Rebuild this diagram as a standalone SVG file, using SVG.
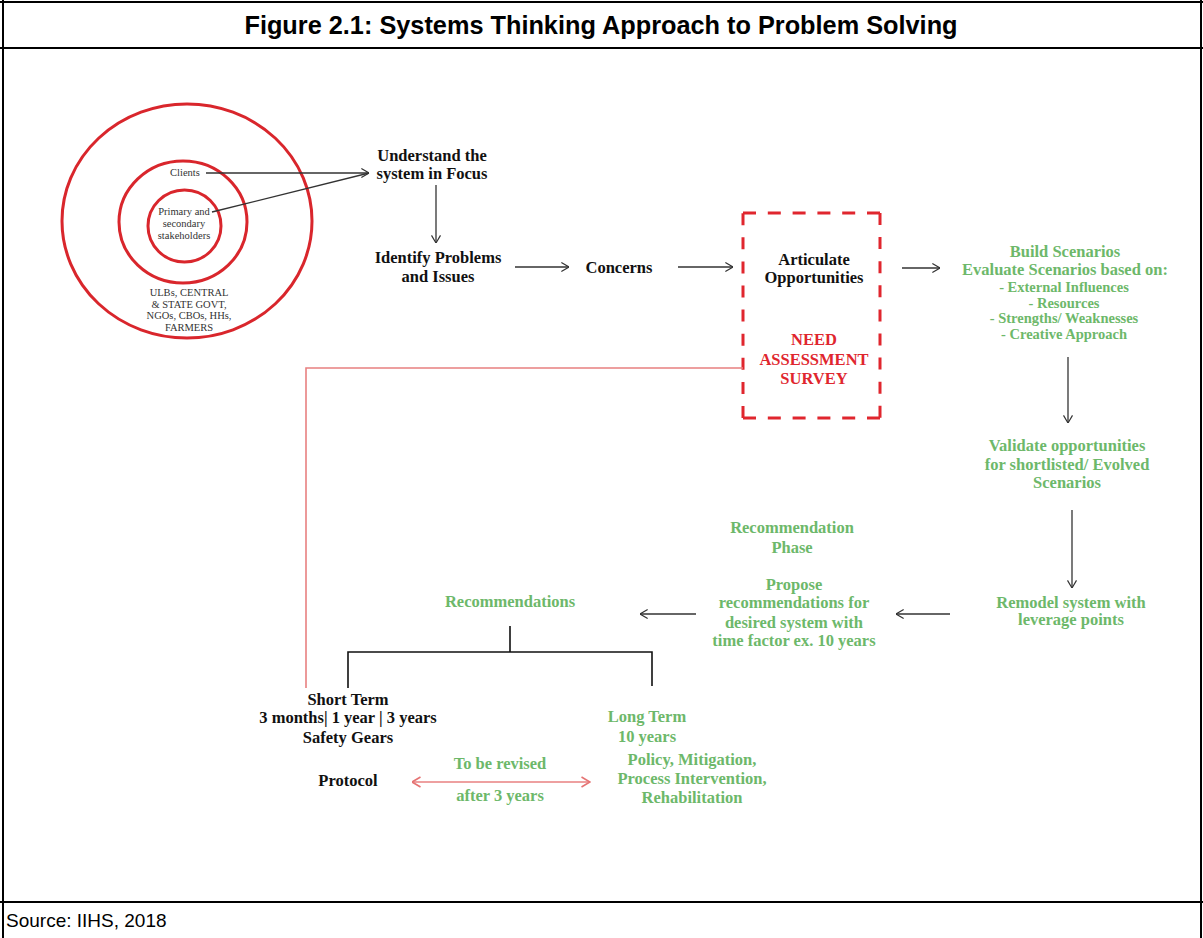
<svg xmlns="http://www.w3.org/2000/svg" width="1203" height="938" viewBox="0 0 1203 938">
<style>
.frame{stroke:#000;stroke-width:2;fill:none}
.title{font-family:"Liberation Sans",Arial,sans-serif;font-weight:bold;font-size:25.3px;fill:#000}
.src{font-family:"Liberation Sans",Arial,sans-serif;font-size:19px;fill:#000}
.ring{fill:none;stroke:#d9262c;stroke-width:3}
.sm{font-family:"Liberation Serif","DejaVu Serif",serif;font-size:10.5px;fill:#333;text-anchor:middle}
.t{font-family:"Liberation Serif","DejaVu Serif",serif;font-weight:bold;font-size:16.5px;text-anchor:middle}
.k{fill:#111}
.g{fill:#6db86a}
.r{fill:#e0262e}
.gs{font-size:14.5px}
.ln{stroke:#333;stroke-width:1.3;fill:none}
.tree{stroke:#111;stroke-width:1.6;fill:none}
.dash{stroke:#e0262e;stroke-width:3;fill:none}
.rl{stroke:#e88080;stroke-width:1.6;fill:none}
</style>
<defs>
<marker id="ah" viewBox="0 0 10 12" refX="9.5" refY="6" markerWidth="9" markerHeight="11" orient="auto" markerUnits="userSpaceOnUse">
<path d="M1,1 L9.5,6 L1,11" fill="none" stroke="#333" stroke-width="1.3"/>
</marker>
<marker id="rh" viewBox="0 0 10 12" refX="9.5" refY="6" markerWidth="10" markerHeight="12" orient="auto-start-reverse" markerUnits="userSpaceOnUse">
<path d="M1,1 L9.5,6 L1,11" fill="none" stroke="#e57373" stroke-width="1.6"/>
</marker>
</defs>
<rect width="1203" height="938" fill="#fff"/>
<g id="frame">
<line class="frame" x1="3" y1="0" x2="3" y2="938"/>
<line class="frame" x1="1201" y1="0" x2="1201" y2="938"/>
<line class="frame" x1="0" y1="2" x2="1203" y2="2"/>
<line class="frame" x1="0" y1="48" x2="1203" y2="48"/>
<line class="frame" x1="0" y1="902" x2="1203" y2="902"/>
<text class="title" x="601" y="34" text-anchor="middle">Figure 2.1: Systems Thinking Approach to Problem Solving</text>
<text class="src" x="6" y="927">Source: IIHS, 2018</text>
</g>
<g id="stakeholders">
<ellipse class="ring" cx="187" cy="221" rx="125" ry="117"/>
<ellipse class="ring" cx="183" cy="222" rx="64" ry="61"/>
<ellipse class="ring" cx="184.5" cy="226" rx="36.5" ry="36"/>
<text class="sm" x="185" y="176">Clients</text>
<text class="sm" x="184" y="215">Primary and</text>
<text class="sm" x="184" y="227">secondary</text>
<text class="sm" x="184" y="239">stakeholders</text>
<text class="sm" x="189" y="296">ULBs, CENTRAL</text>
<text class="sm" x="189" y="307.5">&amp; STATE GOVT,</text>
<text class="sm" x="189" y="319">NGOs, CBOs, HHs,</text>
<text class="sm" x="189" y="330.5">FARMERS</text>
</g>
<g id="understand"><text class="t k" x="432" y="161">Understand the</text><text class="t k" x="432" y="179">system in Focus</text></g>
<g id="identify"><text class="t k" x="438" y="263">Identify Problems</text><text class="t k" x="438" y="282">and Issues</text></g>
<g id="concerns"><text class="t k" x="619" y="273">Concerns</text></g>
<g id="articulate">
<path class="dash" d="M743,213 H880" stroke-dasharray="13 11.8"/>
<path class="dash" d="M880,213 V418" stroke-dasharray="12 12.1"/>
<path class="dash" d="M880,418 H743" stroke-dasharray="13 11.8"/>
<path class="dash" d="M743,418 V213" stroke-dasharray="12 12.1"/>
<text class="t k" x="814" y="265">Articulate</text>
<text class="t k" x="814" y="283">Opportunities</text>
<text class="t r" x="814" y="345">NEED</text>
<text class="t r" x="814" y="365">ASSESSMENT</text>
<text class="t r" x="814" y="384">SURVEY</text>
</g>
<g id="scenarios">
<text class="t g" x="1065" y="257">Build Scenarios</text>
<text class="t g" x="1065" y="275">Evaluate Scenarios based on:</text>
<text class="t g gs" x="1064" y="292">- External Influences</text>
<text class="t g gs" x="1064" y="308">- Resources</text>
<text class="t g gs" x="1064" y="323">- Strengths/ Weaknesses</text>
<text class="t g gs" x="1064" y="339">- Creative Approach</text>
</g>
<g id="validate">
<text class="t g" x="1067" y="451">Validate opportunities</text>
<text class="t g" x="1067" y="470">for shortlisted/ Evolved</text>
<text class="t g" x="1067" y="488">Scenarios</text>
</g>
<g id="remodel">
<text class="t g" x="1071" y="608">Remodel system with</text>
<text class="t g" x="1071" y="625">leverage points</text>
</g>
<g id="recommendation-phase">
<text class="t g" x="792" y="533">Recommendation</text>
<text class="t g" x="792" y="553">Phase</text>
<text class="t g" x="794" y="590">Propose</text>
<text class="t g" x="794" y="608">recommendations for</text>
<text class="t g" x="794" y="628">desired system with</text>
<text class="t g" x="794" y="646">time factor ex. 10 years</text>
</g>
<g id="recommendations"><text class="t g" x="510" y="607">Recommendations</text></g>
<g id="short-term">
<text class="t k" x="348" y="705">Short Term</text>
<text class="t k" x="348" y="723">3 months| 1 year | 3 years</text>
<text class="t k" x="348" y="743">Safety Gears</text>
</g>
<g id="protocol"><text class="t k" x="348" y="786">Protocol</text></g>
<g id="revised">
<text class="t g" x="500" y="769">To be revised</text>
<text class="t g" x="500" y="801">after 3 years</text>
</g>
<g id="long-term">
<text class="t g" x="647" y="722">Long Term</text>
<text class="t g" x="647" y="742">10 years</text>
<text class="t g" x="692" y="765">Policy, Mitigation,</text>
<text class="t g" x="692" y="784">Process Intervention,</text>
<text class="t g" x="692" y="803">Rehabilitation</text>
</g>
<g id="connectors">
<line class="ln" x1="206" y1="173" x2="369" y2="173" marker-end="url(#ah)"/>
<line class="ln" x1="212" y1="212" x2="369" y2="173"/>
<line class="ln" x1="436" y1="185" x2="436" y2="243" marker-end="url(#ah)"/>
<line class="ln" x1="515" y1="267" x2="569" y2="267" marker-end="url(#ah)"/>
<line class="ln" x1="678" y1="267" x2="733" y2="267" marker-end="url(#ah)"/>
<line class="ln" x1="902" y1="268" x2="940" y2="268" marker-end="url(#ah)"/>
<line class="ln" x1="1068" y1="357" x2="1068" y2="423" marker-end="url(#ah)"/>
<line class="ln" x1="1072" y1="510" x2="1072" y2="588" marker-end="url(#ah)"/>
<line class="ln" x1="950" y1="614" x2="896" y2="614" marker-end="url(#ah)"/>
<line class="ln" x1="696" y1="614" x2="640" y2="614" marker-end="url(#ah)"/>
<path class="tree" d="M510,626 V652 M348,688 V652 H652 V686"/>
<polyline class="rl" points="743,368 306,368 306,688"/>
<line class="rl" stroke="#e57373" x1="412" y1="782" x2="590" y2="782" marker-start="url(#rh)" marker-end="url(#rh)"/>
</g>
</svg>
